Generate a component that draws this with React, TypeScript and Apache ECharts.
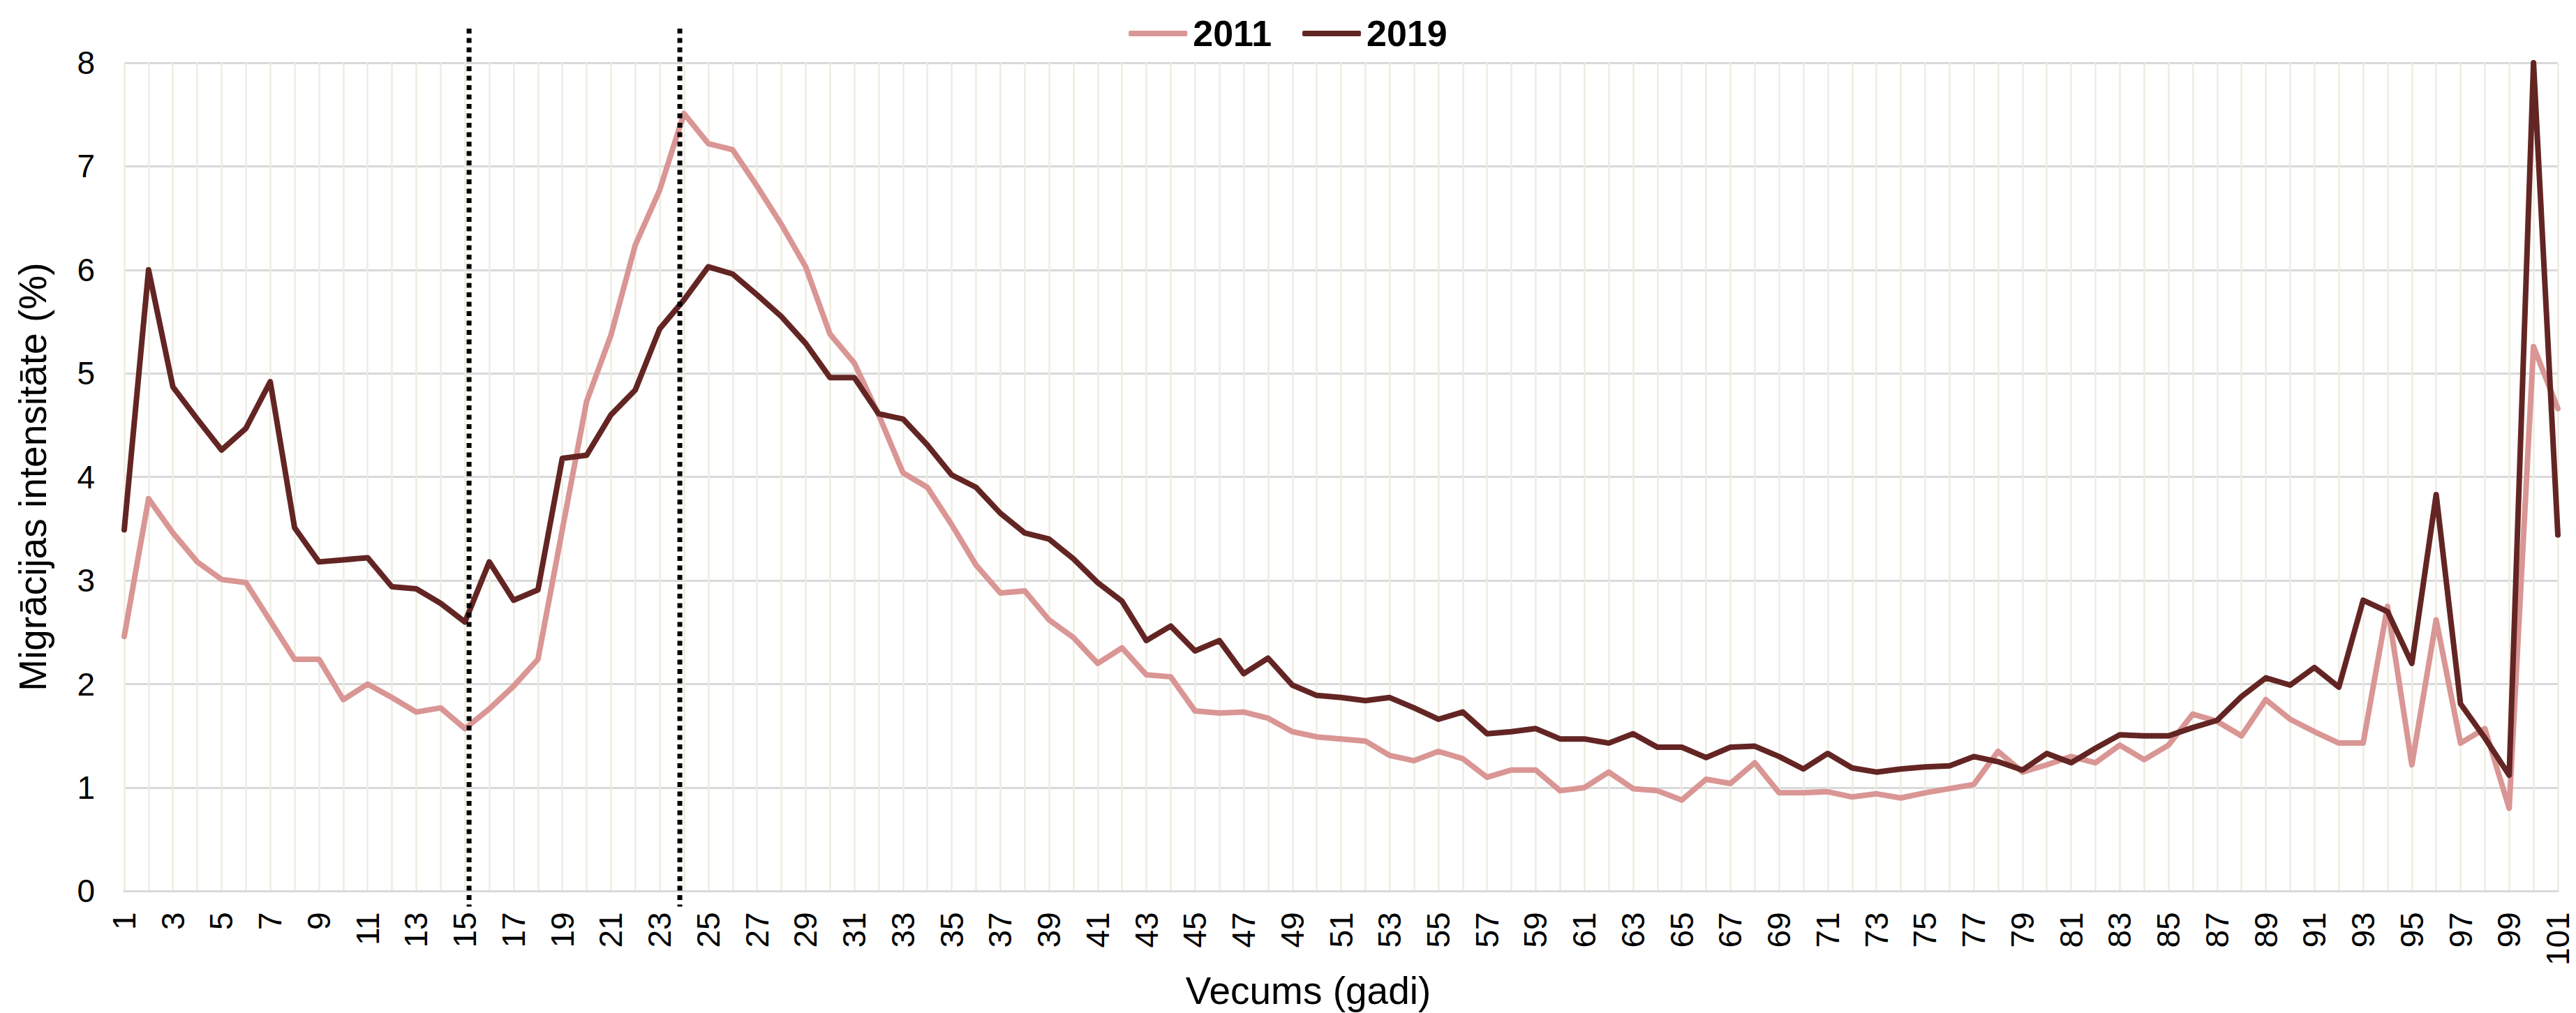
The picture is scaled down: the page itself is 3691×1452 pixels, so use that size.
import React, { useEffect, useRef } from "react";
import * as echarts from "echarts";

const ages: string[] = [
  "1","2","3","4","5","6","7","8","9","10",
  "11","12","13","14","15","16","17","18","19","20",
  "21","22","23","24","25","26","27","28","29","30",
  "31","32","33","34","35","36","37","38","39","40",
  "41","42","43","44","45","46","47","48","49","50",
  "51","52","53","54","55","56","57","58","59","60",
  "61","62","63","64","65","66","67","68","69","70",
  "71","72","73","74","75","76","77","78","79","80",
  "81","82","83","84","85","86","87","88","89","90",
  "91","92","93","94","95","96","97","98","99","100",
  "101",
];

const values2011: number[] = [
  2.46, 3.79, 3.46, 3.18, 3.01, 2.98, 2.61, 2.24, 2.24, 1.85,
  2.00, 1.87, 1.73, 1.77, 1.57, 1.76, 1.98, 2.24, 3.49, 4.73,
  5.37, 6.24, 6.77, 7.51, 7.22, 7.16, 6.81, 6.44, 6.03, 5.38,
  5.10, 4.60, 4.04, 3.90, 3.54, 3.15, 2.88, 2.90, 2.62, 2.45,
  2.20, 2.35, 2.09, 2.07, 1.74, 1.72, 1.73, 1.67, 1.54, 1.49,
  1.47, 1.45, 1.31, 1.26, 1.35, 1.28, 1.10, 1.17, 1.17, 0.97,
  1.00, 1.15, 0.99, 0.97, 0.88, 1.08, 1.04, 1.24, 0.95, 0.95,
  0.96, 0.91, 0.94, 0.90, 0.95, 0.99, 1.03, 1.35, 1.15, 1.22,
  1.30, 1.24, 1.41, 1.27, 1.41, 1.71, 1.64, 1.50, 1.85, 1.66,
  1.54, 1.43, 1.43, 2.75, 1.22, 2.62, 1.43, 1.57, 0.80, 5.26,
  4.66,
];

const values2019: number[] = [
  3.49, 6.00, 4.87, 4.56, 4.26, 4.47, 4.92, 3.51, 3.18, 3.20,
  3.22, 2.94, 2.92, 2.78, 2.60, 3.18, 2.81, 2.91, 4.18, 4.21,
  4.60, 4.84, 5.43, 5.71, 6.03, 5.96, 5.76, 5.55, 5.29, 4.96,
  4.96, 4.61, 4.56, 4.31, 4.02, 3.90, 3.65, 3.46, 3.40, 3.21,
  2.98, 2.80, 2.42, 2.56, 2.32, 2.42, 2.10, 2.25, 1.99, 1.89,
  1.87, 1.84, 1.87, 1.77, 1.66, 1.73, 1.52, 1.54, 1.57, 1.47,
  1.47, 1.43, 1.52, 1.39, 1.39, 1.29, 1.39, 1.40, 1.30, 1.18,
  1.33, 1.19, 1.15, 1.18, 1.20, 1.21, 1.30, 1.25, 1.17, 1.33,
  1.24, 1.38, 1.51, 1.50, 1.50, 1.58, 1.65, 1.88, 2.06, 1.99,
  2.16, 1.97, 2.81, 2.70, 2.20, 3.83, 1.81, 1.48, 1.12, 8.00,
  3.44,
];

const seriesNames: string[] = ["2011", "2019"];
// dotted marker lines: age category and a small offset (in categories) as drawn in the source
const markerAges: string[] = ["15", "24"];
const markerOffsets: number[] = [0.17, -0.17];
// vertical extent of the dotted markers, in axis units
const markerTop = 8.33;
const markerBottom = -0.15;

const COLOR_2011 = "#D99694";
const COLOR_2019 = "#632523";
const FONT = "'Liberation Sans', Arial, sans-serif";

export default function App() {
  const ref = useRef<HTMLDivElement>(null);

  useEffect(() => {
    if (!ref.current) return;
    const chart = echarts.init(ref.current, undefined, { renderer: "svg" });
    chart.setOption({
      animation: false,
      backgroundColor: "#ffffff",
      textStyle: { fontFamily: FONT, color: "#000" },
      grid: { left: 178, right: 26, top: 90, bottom: 174, containLabel: false },
      legend: {
        data: seriesNames,
        top: 17,
        left: "center",
        itemWidth: 84,
        itemHeight: 8,
        itemGap: 44,
        icon: "roundRect",
        textStyle: { fontFamily: FONT, fontSize: 52, fontWeight: "bold", color: "#000", padding: [0, 0, 0, 3] },
      },
      xAxis: {
        type: "category",
        data: ages,
        boundaryGap: false,
        name: "Vecums (gadi)",
        nameLocation: "middle",
        nameGap: 113,
        nameTextStyle: { fontFamily: FONT, fontSize: 55, color: "#000", padding: [0, 94, 0, 0] },
        axisLine: { show: true, lineStyle: { color: "#D9D9D9", width: 3 } },
        axisTick: { show: false },
        axisLabel: {
          interval: 1,
          rotate: 90,
          margin: 30,
          fontFamily: FONT,
          fontSize: 46,
          color: "#000",
        },
        splitLine: { show: true, interval: 0, lineStyle: { color: "#EEECE1", width: 2.5 } },
      },
      yAxis: {
        type: "value",
        min: 0,
        max: 8,
        interval: 1,
        name: "Migrācijas intensitāte (%)",
        nameLocation: "middle",
        nameGap: 104,
        nameTextStyle: { fontFamily: FONT, fontSize: 55, color: "#000" },
        axisLine: { show: false },
        axisTick: { show: false },
        axisLabel: { margin: 42, fontFamily: FONT, fontSize: 46, color: "#000" },
        splitLine: { show: true, lineStyle: { color: "#D9D9D9", width: 3 } },
      },
      series: [
        {
          name: seriesNames[0],
          type: "line",
          data: values2011,
          symbol: "none",
          showSymbol: false,
          clip: false,
          lineStyle: { color: COLOR_2011, width: 8, join: "round", cap: "round" },
          itemStyle: { color: COLOR_2011 },
          z: 3,
        },
        {
          name: seriesNames[1],
          type: "line",
          data: values2019,
          symbol: "none",
          showSymbol: false,
          clip: false,
          lineStyle: { color: COLOR_2019, width: 8, join: "round", cap: "round" },
          itemStyle: { color: COLOR_2019 },
          z: 4,
        },
      ],
    });

    const yTop = chart.convertToPixel({ yAxisIndex: 0 }, markerTop) as number;
    const yBottom = chart.convertToPixel({ yAxisIndex: 0 }, markerBottom) as number;
    const graphics = markerAges.map((age, i) => {
      const idx = ages.indexOf(age);
      const x0 = chart.convertToPixel({ xAxisIndex: 0 }, idx) as number;
      const x1 = chart.convertToPixel({ xAxisIndex: 0 }, idx + 1) as number;
      const x = x0 + (x1 - x0) * markerOffsets[i];
      return {
        type: "line",
        shape: { x1: x, y1: yTop, x2: x, y2: yBottom },
        style: { stroke: "#000", lineWidth: 7, lineDash: [7, 6.5] },
        z: 10,
      };
    });
    chart.setOption({ graphic: graphics });

    return () => chart.dispose();
  }, []);

  return (
    <div
      ref={ref}
      style={{ position: "absolute", left: 0, top: 0, width: 3691, height: 1452 }}
    />
  );
}
